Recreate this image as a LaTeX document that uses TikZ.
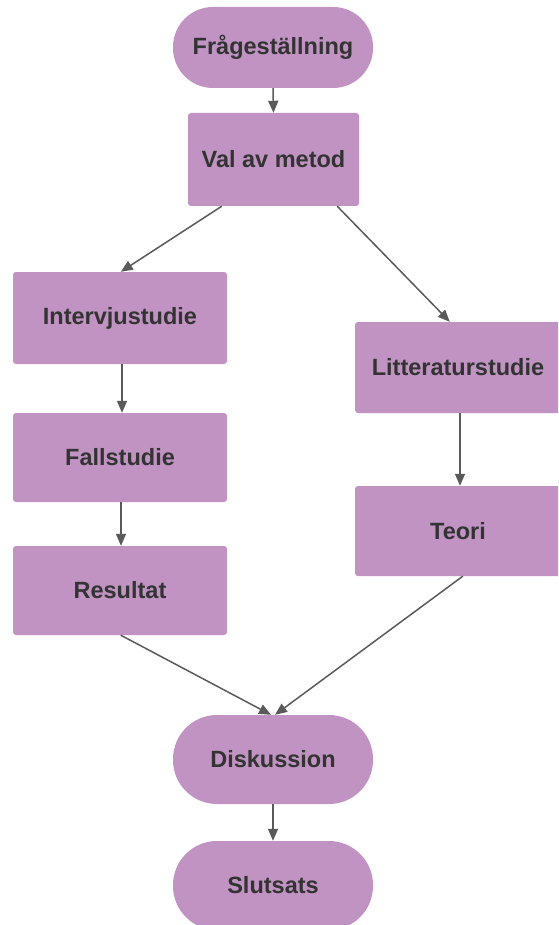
\documentclass[tikz,border=0pt]{standalone}
\usepackage{fontspec}
\setmainfont{Liberation Sans}
\usetikzlibrary{arrows.meta}
\definecolor{boxfill}{HTML}{C093C2}
\definecolor{txt}{HTML}{333333}
\definecolor{arrc}{HTML}{5A5A5A}
\begin{document}
\begin{tikzpicture}[x=1pt,y=-1pt,
  base/.style={fill=boxfill,draw=none,inner sep=0pt,text=txt,
    font=\fontsize{23.5}{28}\selectfont\bfseries},
  rectbox/.style={base,rectangle,rounded corners=3pt},
  stadium/.style={base,rectangle,rounded corners=40pt},
  arr/.style={draw=arrc,line width=1.5pt,-{Triangle[length=12pt,width=10pt]}}]
\clip (0,0) rectangle (558,925);
\node[stadium,minimum width=200pt,minimum height=81pt] (frage) at (273,47.5) {Frågeställning};
\node[rectbox,minimum width=171pt,minimum height=93pt] (val) at (273.5,159.5) {Val av metod};
\node[rectbox,minimum width=214pt,minimum height=92pt] (intervju) at (120,318) {Intervjustudie};
\node[rectbox,minimum width=214pt,minimum height=89pt] (fall) at (120,457.5) {Fallstudie};
\node[rectbox,minimum width=214pt,minimum height=89pt] (resultat) at (120,590.5) {Resultat};
\node[rectbox,minimum width=206pt,minimum height=91pt] (litt) at (458,367.5) {Litteraturstudie};
\node[rectbox,minimum width=206pt,minimum height=90pt] (teori) at (458,531) {Teori};
\node[stadium,minimum width=200pt,minimum height=89pt,rounded corners=44pt] (disk) at (273,759.5) {Diskussion};
\node[stadium,minimum width=200pt,minimum height=89pt,rounded corners=44pt] (slut) at (273,885.5) {Slutsats};
\draw[arr] (frage.south) -- (val.north);
\draw[arr] ([xshift=34pt]val.south west) -- ([xshift=108pt]intervju.north west);
\draw[arr] ([xshift=-22pt]val.south east) -- ([xshift=95pt]litt.north west);
\draw[arr] ([xshift=2pt]intervju.south) -- ([xshift=2pt]fall.north);
\draw[arr] ([xshift=1pt]fall.south) -- ([xshift=1pt]resultat.north);
\draw[arr] ([xshift=2pt]litt.south) -- ([xshift=2pt]teori.north);
\draw[arr] ([xshift=108pt]resultat.south west) -- ([xshift=-2pt]disk.north);
\draw[arr] ([xshift=108pt]teori.south west) -- ([xshift=2pt]disk.north);
\draw[arr] (disk.south) -- (slut.north);
\end{tikzpicture}
\end{document}
